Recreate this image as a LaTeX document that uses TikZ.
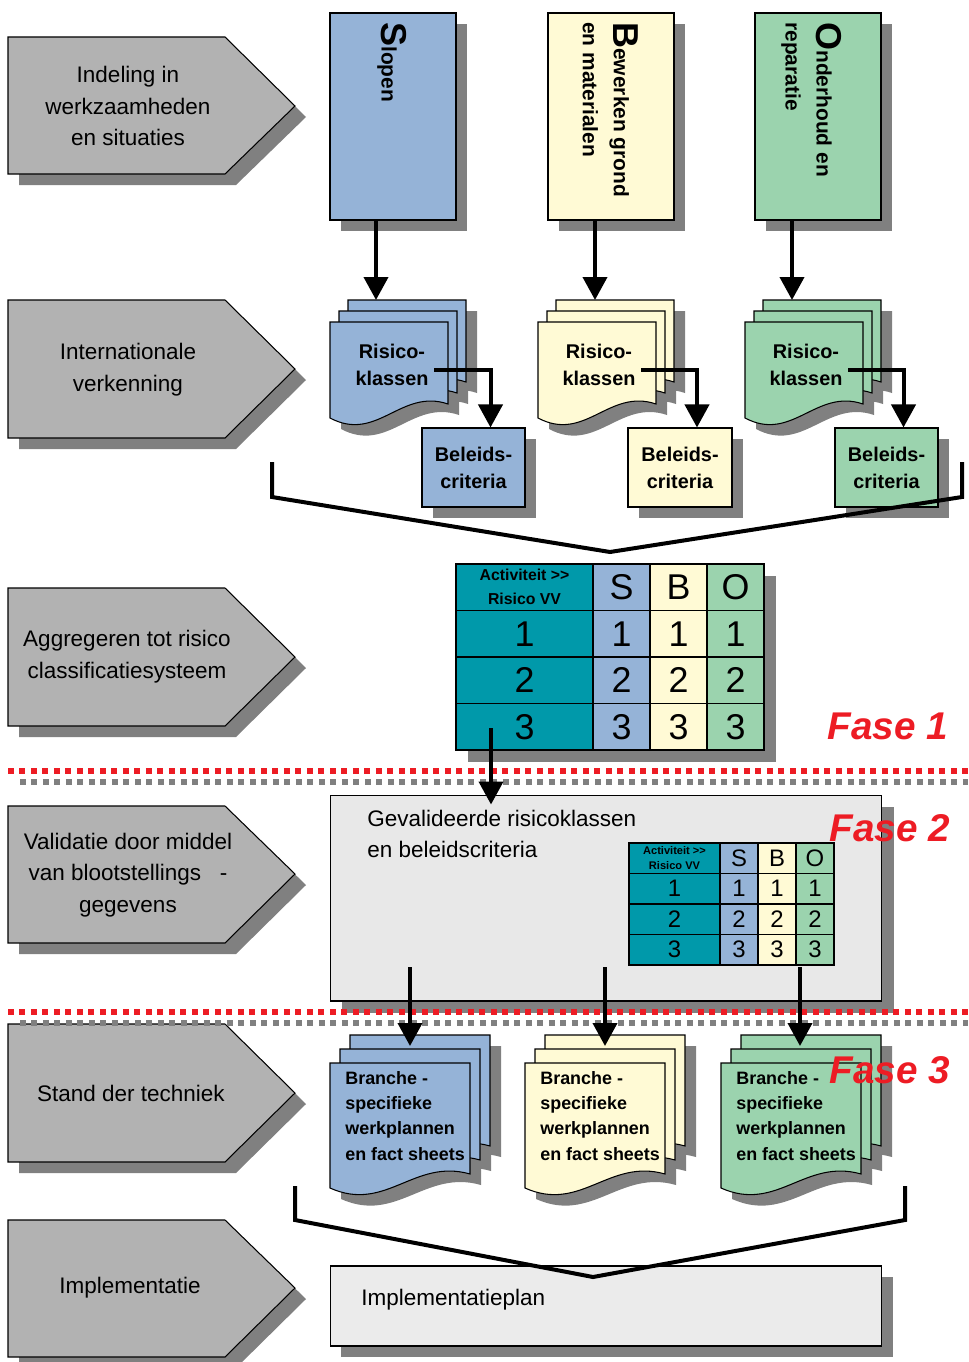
\documentclass[tikz,border=0pt]{standalone}
\usepackage{fontspec}
\setmainfont{Liberation Sans}
\usetikzlibrary{arrows.meta,calc}

\definecolor{chevgrijs}{HTML}{B2B2B2}
\definecolor{schaduw}{HTML}{808080}
\definecolor{blauw}{HTML}{95B3D7}
\definecolor{geel}{HTML}{FFFAD5}
\definecolor{groen}{HTML}{9BD3AE}
\definecolor{petrol}{HTML}{0099AA}
\definecolor{lichtgrijs}{HTML}{E8E8E8}
\definecolor{plangrijs}{HTML}{EBEBEB}
\definecolor{faserood}{HTML}{ED1C24}

\newcommand{\blad}[5]{%
  \path[#5] (#1,#2) -- (#1+#3,#2) -- (#1+#3,#2+#4-14)
    .. controls (#1+0.6*#3,#2+#4-30) and (#1+0.4*#3,#2+#4+25) .. (#1,#2+#4) -- cycle;}

\begin{document}
\begin{tikzpicture}[x=0.02cm, y=-0.02cm]
\tikzset{vlak/.style={draw, line width=0.6pt},
  pijl/.style={line width=0.08cm, -{Triangle[width=0.48cm,length=0.46cm]}},
  lijn/.style={line width=0.08cm, line join=miter},
  stippel/.style={line width=0.11cm, dash pattern=on 0.12cm off 0.11cm},
  chevtekst/.style={align=center, font=\fontsize{12.8}{18.1}\selectfont},
  kopje/.style={rotate=-90, anchor=north west, inner sep=0pt, align=left,
    font=\bfseries\fontsize{11.9}{17.6}\selectfont},
  doctekst/.style={align=center, font=\bfseries\fontsize{11.3}{15.3}\selectfont},
  branchetekst/.style={anchor=west, inner sep=0pt, align=left,
    font=\bfseries\fontsize{10.2}{14.3}\selectfont},
  groot/.style={vlak, inner sep=0pt, minimum height=0.93cm, minimum width=1.14cm,
    font=\fontsize{20.4}{20.4}\selectfont},
  grootkop/.style={groot, minimum width=2.74cm, fill=petrol},
  klein/.style={vlak, inner sep=0pt, minimum height=0.61cm, minimum width=0.76cm,
    font=\fontsize{13.6}{13.6}\selectfont},
  kleinkop/.style={klein, minimum width=1.82cm, fill=petrol},
  fase/.style={text=faserood, font=\bfseries\itshape\fontsize{22}{22}\selectfont}}
\useasboundingbox (0,0) rectangle (968,1362);
\newcommand{\groot}{\fontsize{20.5}{20.5}\selectfont}

\fill[schaduw, shift={(11,11)}] (8,37) -- (225,37) -- (295,106) -- (225,174) -- (8,174) -- cycle;
\filldraw[vlak, fill=chevgrijs] (8,37) -- (225,37) -- (295,106) -- (225,174) -- (8,174) -- cycle;
\node[chevtekst] (indeling) at (128,106) {Indeling in\\werkzaamheden\\en situaties};
\fill[schaduw, shift={(11,11)}] (8,300) -- (225,300) -- (295,369) -- (225,438) -- (8,438) -- cycle;
\filldraw[vlak, fill=chevgrijs] (8,300) -- (225,300) -- (295,369) -- (225,438) -- (8,438) -- cycle;
\node[chevtekst] (verkenning) at (128,370) {Internationale\\verkenning};
\fill[schaduw, shift={(11,11)}] (8,588) -- (225,588) -- (295,657) -- (225,726) -- (8,726) -- cycle;
\filldraw[vlak, fill=chevgrijs] (8,588) -- (225,588) -- (295,657) -- (225,726) -- (8,726) -- cycle;
\node[chevtekst] (aggregeren) at (127,657) {Aggregeren tot risico\\classificatiesysteem};
\fill[schaduw, shift={(11,11)}] (8,806) -- (225,806) -- (295,874) -- (225,943) -- (8,943) -- cycle;
\filldraw[vlak, fill=chevgrijs] (8,806) -- (225,806) -- (295,874) -- (225,943) -- (8,943) -- cycle;
\node[chevtekst] (validatie) at (128,875) {Validatie door middel\\van blootstellings\ \ \ -\\gegevens};
\fill[schaduw, shift={(11,11)}] (8,1024) -- (225,1024) -- (295,1093) -- (225,1162) -- (8,1162) -- cycle;
\filldraw[vlak, fill=chevgrijs] (8,1024) -- (225,1024) -- (295,1093) -- (225,1162) -- (8,1162) -- cycle;
\node[chevtekst] (stand) at (131,1093) {Stand der techniek};
\fill[schaduw, shift={(11,11)}] (8,1220) -- (225,1220) -- (295,1288) -- (225,1357) -- (8,1357) -- cycle;
\filldraw[vlak, fill=chevgrijs] (8,1220) -- (225,1220) -- (295,1288) -- (225,1357) -- (8,1357) -- cycle;
\node[chevtekst] (implementatie) at (130,1288) {Implementatie};

\fill[schaduw, shift={(11,11)}] (330,13) rectangle (456,220);
\fill[schaduw, shift={(11,11)}] (548,13) rectangle (674,220);
\fill[schaduw, shift={(11,11)}] (755,13) rectangle (881,220);
\node[vlak, fill=blauw, minimum width=2.52cm, minimum height=4.14cm] (slopen) at (393,116.5) {};
\node[vlak, fill=geel, minimum width=2.52cm, minimum height=4.14cm] (bewerken) at (611,116.5) {};
\node[vlak, fill=groen, minimum width=2.52cm, minimum height=4.14cm] (onderhoud) at (818,116.5) {};
\node[kopje] (tslopen) at (407,22) {{\groot S}lopen};
\node[kopje] (tbewerken) at (639,22) {{\groot B}ewerken grond\\en materialen};
\node[kopje] (tonderhoud) at (842,22) {{\groot O}nderhoud en\\reparatie};

\blad{348}{300}{118}{96}{fill=schaduw, shift={(11,11)}}
\blad{339}{311}{118}{96}{fill=schaduw, shift={(11,11)}}
\blad{330}{322}{118}{96}{fill=schaduw, shift={(11,11)}}
\blad{556}{300}{118}{96}{fill=schaduw, shift={(11,11)}}
\blad{547}{311}{118}{96}{fill=schaduw, shift={(11,11)}}
\blad{538}{322}{118}{96}{fill=schaduw, shift={(11,11)}}
\blad{763}{300}{118}{96}{fill=schaduw, shift={(11,11)}}
\blad{754}{311}{118}{96}{fill=schaduw, shift={(11,11)}}
\blad{745}{322}{118}{96}{fill=schaduw, shift={(11,11)}}
\blad{348}{300}{118}{96}{vlak, fill=blauw}
\blad{339}{311}{118}{96}{vlak, fill=blauw}
\blad{330}{322}{118}{96}{vlak, fill=blauw}
\blad{556}{300}{118}{96}{vlak, fill=geel}
\blad{547}{311}{118}{96}{vlak, fill=geel}
\blad{538}{322}{118}{96}{vlak, fill=geel}
\blad{763}{300}{118}{96}{vlak, fill=groen}
\blad{754}{311}{118}{96}{vlak, fill=groen}
\blad{745}{322}{118}{96}{vlak, fill=groen}
\node[doctekst] (rk1) at (392,364.5) {Risico-\\klassen};
\node[doctekst] (rk2) at (599,364.5) {Risico-\\klassen};
\node[doctekst] (rk3) at (806,364.5) {Risico-\\klassen};
\coordinate (top1) at (376,300);
\coordinate (top2) at (595,300);
\coordinate (top3) at (792,300);
\draw[pijl] (slopen.south -| top1) -- (top1);
\draw[pijl] (bewerken.south -| top2) -- (top2);
\draw[pijl] (onderhoud.south -| top3) -- (top3);

\fill[schaduw, shift={(11,11)}] (422,428) rectangle (525,507);
\fill[schaduw, shift={(11,11)}] (628,428) rectangle (732,507);
\fill[schaduw, shift={(11,11)}] (835,428) rectangle (938,507);
\node[vlak, fill=blauw, doctekst, minimum width=2.06cm, minimum height=1.58cm] (bc1) at (473.5,467.5) {Beleids-\\criteria};
\node[vlak, fill=geel, doctekst, minimum width=2.08cm, minimum height=1.58cm] (bc2) at (680,467.5) {Beleids-\\criteria};
\node[vlak, fill=groen, doctekst, minimum width=2.06cm, minimum height=1.58cm] (bc3) at (886.5,467.5) {Beleids-\\criteria};
\coordinate (k1) at (434,370);
\coordinate (k2) at (641,370);
\coordinate (k3) at (848,370);
\draw[pijl] (k1) -| ($(bc1.north)+(17,0)$);
\draw[pijl] (k2) -| ($(bc2.north)+(17,0)$);
\draw[pijl] (k3) -| ($(bc3.north)+(17,0)$);

\coordinate (bl1) at (272,462);
\coordinate (bp1) at (610,552);
\coordinate (br1) at (962,462);
\draw[lijn] (bl1) -- (272,497) -- (bp1) -- (962,497) -- (br1);

\fill[schaduw, shift={(12,12)}] (456,564) rectangle (764,750);
\node[grootkop, align=center, font=\bfseries\fontsize{9}{13.6}\selectfont] (a0) at (524.5,587.25) {Activiteit >{}>\\Risico VV};
\node[groot, fill=blauw] (s0) at (621.5,587.25) {S};
\node[groot, fill=geel] (b0) at (678.5,587.25) {B};
\node[groot, fill=groen] (o0) at (735.5,587.25) {O};
\node[grootkop] (a1) at (524.5,633.75) {1};
\node[groot, fill=blauw] (s1) at (621.5,633.75) {1};
\node[groot, fill=geel] (b1) at (678.5,633.75) {1};
\node[groot, fill=groen] (o1) at (735.5,633.75) {1};
\node[grootkop] (a2) at (524.5,680.25) {2};
\node[groot, fill=blauw] (s2) at (621.5,680.25) {2};
\node[groot, fill=geel] (b2) at (678.5,680.25) {2};
\node[groot, fill=groen] (o2) at (735.5,680.25) {2};
\node[grootkop] (a3) at (524.5,726.75) {3};
\node[groot, fill=blauw] (s3) at (621.5,726.75) {3};
\node[groot, fill=geel] (b3) at (678.5,726.75) {3};
\node[groot, fill=groen] (o3) at (735.5,726.75) {3};
\node[fase] (fase1) at (888,726) {Fase 1};

\fill[schaduw, shift={(12,12)}] (330,795) rectangle (882,1001);
\node[vlak, fill=lichtgrijs, minimum width=11.04cm, minimum height=4.12cm] (valbox) at (606,898) {};
\node[anchor=west, inner sep=0pt, align=left, font=\fontsize{12.8}{18.1}\selectfont] (gevalideerd) at (367,834) {Gevalideerde risicoklassen\\en beleidscriteria};
\node[kleinkop, align=center, font=\bfseries\fontsize{6.3}{8.5}\selectfont] (ka0) at (674.5,858.25) {Activiteit >{}>\\Risico VV};
\node[klein, fill=blauw] (ks0) at (739,858.25) {S};
\node[klein, fill=geel] (kb0) at (777,858.25) {B};
\node[klein, fill=groen] (ko0) at (815,858.25) {O};
\node[kleinkop] (ka1) at (674.5,888.75) {1};
\node[klein, fill=blauw] (ks1) at (739,888.75) {1};
\node[klein, fill=geel] (kb1) at (777,888.75) {1};
\node[klein, fill=groen] (ko1) at (815,888.75) {1};
\node[kleinkop] (ka2) at (674.5,919.25) {2};
\node[klein, fill=blauw] (ks2) at (739,919.25) {2};
\node[klein, fill=geel] (kb2) at (777,919.25) {2};
\node[klein, fill=groen] (ko2) at (815,919.25) {2};
\node[kleinkop] (ka3) at (674.5,949.75) {3};
\node[klein, fill=blauw] (ks3) at (739,949.75) {3};
\node[klein, fill=geel] (kb3) at (777,949.75) {3};
\node[klein, fill=groen] (ko3) at (815,949.75) {3};
\node[fase] (fase2) at (890,828) {Fase 2};

\blad{350}{1035}{140}{125}{fill=schaduw, shift={(11,11)}}
\blad{340}{1049}{140}{125}{fill=schaduw, shift={(11,11)}}
\blad{330}{1063}{140}{125}{fill=schaduw, shift={(11,11)}}
\blad{545}{1035}{140}{125}{fill=schaduw, shift={(11,11)}}
\blad{535}{1049}{140}{125}{fill=schaduw, shift={(11,11)}}
\blad{525}{1063}{140}{125}{fill=schaduw, shift={(11,11)}}
\blad{741}{1035}{140}{125}{fill=schaduw, shift={(11,11)}}
\blad{731}{1049}{140}{125}{fill=schaduw, shift={(11,11)}}
\blad{721}{1063}{140}{125}{fill=schaduw, shift={(11,11)}}
\blad{350}{1035}{140}{125}{vlak, fill=blauw}
\blad{340}{1049}{140}{125}{vlak, fill=blauw}
\blad{330}{1063}{140}{125}{vlak, fill=blauw}
\blad{545}{1035}{140}{125}{vlak, fill=geel}
\blad{535}{1049}{140}{125}{vlak, fill=geel}
\blad{525}{1063}{140}{125}{vlak, fill=geel}
\blad{741}{1035}{140}{125}{vlak, fill=groen}
\blad{731}{1049}{140}{125}{vlak, fill=groen}
\blad{721}{1063}{140}{125}{vlak, fill=groen}
\node[branchetekst] (bw1) at (345,1116) {Branche -\\specifieke\\werkplannen\\en fact sheets};
\node[branchetekst] (bw2) at (540,1116) {Branche -\\specifieke\\werkplannen\\en fact sheets};
\node[branchetekst] (bw3) at (736,1116) {Branche -\\specifieke\\werkplannen\\en fact sheets};

\draw[stippel, draw=schaduw] (20,782) -- (968,782);
\draw[stippel, draw=faserood] (8,771) -- (968,771);
\draw[stippel, draw=schaduw] (20,1023) -- (968,1023);
\draw[stippel, draw=faserood] (8,1012) -- (968,1012);

\coordinate (t1) at (491,728);
\draw[pijl] (t1) -- ($(t1 |- valbox.north)+(0,10)$);
\coordinate (v1) at (410,967);
\coordinate (v2) at (605,967);
\coordinate (v3) at (800,967);
\coordinate (w1) at (410,1046);
\coordinate (w2) at (605,1046);
\coordinate (w3) at (800,1046);
\draw[pijl] (v1) -- (w1);
\draw[pijl] (v2) -- (w2);
\draw[pijl] (v3) -- (w3);
\node[fase] (fase3) at (890,1070) {Fase 3};

\fill[schaduw, shift={(11,11)}] (330,1266) rectangle (882,1346);
\node[vlak, fill=plangrijs, minimum width=11.04cm, minimum height=1.6cm] (plan) at (606,1306) {};
\node[anchor=west, inner sep=0pt, font=\fontsize{12.8}{18.1}\selectfont] (plantekst) at (361,1300) {Implementatieplan};

\coordinate (bl2) at (295,1186);
\coordinate (bp2) at (593,1277);
\coordinate (br2) at (905,1186);
\draw[lijn] (bl2) -- (295,1220) -- (bp2) -- (905,1220) -- (br2);
\end{tikzpicture}
\end{document}
